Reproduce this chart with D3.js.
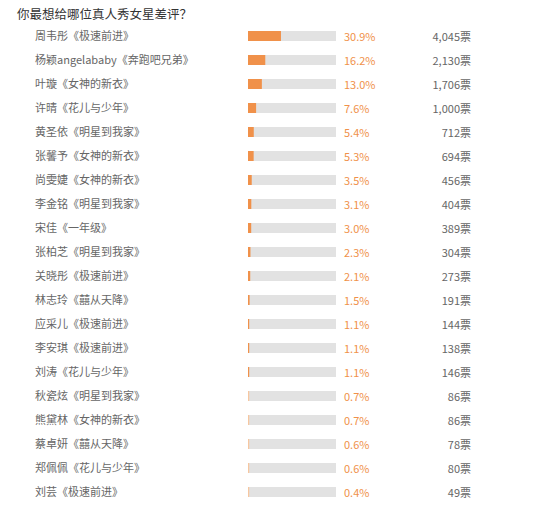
<!DOCTYPE html><html><head><meta charset="utf-8">
<script src="https://cdn.jsdelivr.net/npm/d3@7"></script>
<style>body{margin:0;background:#fff}</style></head><body><svg id="c" width="550" height="505"></svg>
<script>
const names=["周韦彤《极速前进》","杨颖angelababy《奔跑吧兄弟》","叶璇《女神的新衣》","许晴《花儿与少年》","黄圣依《明星到我家》","张馨予《女神的新衣》","尚雯婕《女神的新衣》","李金铭《明星到我家》","宋佳《一年级》","张柏芝《明星到我家》","关晓彤《极速前进》","林志玲《囍从天降》","应采儿《极速前进》","李安琪《极速前进》","刘涛《花儿与少年》","秋瓷炫《明星到我家》","熊黛林《女神的新衣》","蔡卓妍《囍从天降》","郑佩佩《花儿与少年》","刘芸《极速前进》"];
const pcts=[30.9,16.2,13.0,7.6,5.4,5.3,3.5,3.1,3.0,2.3,2.1,1.5,1.1,1.1,1.1,0.7,0.7,0.6,0.6,0.4];
const votes=[4045,2130,1706,1000,712,694,456,404,389,304,273,191,144,138,146,86,86,78,80,49];
const svg=d3.select("#c");const F="'Noto Sans CJK SC',sans-serif";
svg.append("text").attr("x",17).attr("y",19).attr("font-family",F).attr("font-size",12.5).attr("fill","#333").text("你最想给哪位真人秀女星差评？");
const y=d3.scaleBand().domain(d3.range(20)).range([24,504]);
const x=d3.scaleLinear().domain([0,82.5]).range([0,88]);
const g=svg.selectAll("g.r").data(d3.range(20)).join("g").attr("transform",i=>`translate(0,${y(i)+y.bandwidth()/2})`);
g.append("text").attr("x",35).attr("y",4).attr("font-family",F).attr("font-size",11).attr("fill","#666").text(i=>names[i]);
g.append("rect").attr("x",248).attr("y",-5).attr("width",88).attr("height",10).attr("fill","#e2e2e2");
g.append("rect").attr("x",248).attr("y",-5).attr("width",i=>Math.max(1.2,x(pcts[i]))).attr("height",10).attr("fill",i=>pcts[i]<1?"#f7c7a0":"#f0914a");
g.append("text").attr("x",344).attr("y",4.5).attr("font-family",F).attr("font-size",11).attr("fill","#f0914a").text(i=>pcts[i].toFixed(1)+"%");
g.append("text").attr("x",471).attr("y",4.5).attr("text-anchor","end").attr("font-family",F).attr("font-size",11).attr("fill","#666").text(i=>d3.format(",")(votes[i])+"票");
</script></body></html>
